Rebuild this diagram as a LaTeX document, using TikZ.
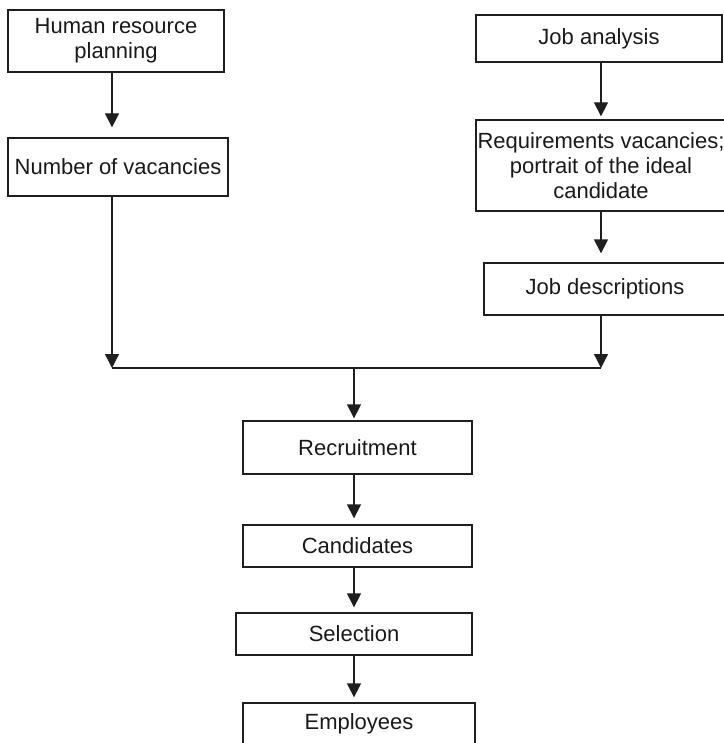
\documentclass[tikz,border=0pt]{standalone}
\usepackage{fontspec}
\setmainfont{Liberation Sans}
\usetikzlibrary{arrows.meta}
\begin{document}
\begin{tikzpicture}[x=1pt,y=-1pt,
  box/.style={draw=black!88, line width=1.3pt, inner sep=0pt, align=center,
    font=\fontsize{22}{25}\selectfont, text=black!90},
  conn/.style={draw=black!88, line width=1.3pt},
  arr/.style={conn, -{Triangle[length=14pt,width=14pt]}}]
\useasboundingbox (0,0) rectangle (723,743);
\node[box, minimum width=216pt, minimum height=62pt] (hrp) at (116,41) {Human resource\\planning};
\node[box, minimum width=220pt, minimum height=58pt] (nov) at (118,167) {Number of vacancies};
\node[box, minimum width=246pt, minimum height=47pt] (ja) at (599,38.5) {Job analysis};
\node[box, minimum width=250pt, minimum height=91pt] (req) at (601,165.5) {Requirements vacancies;\\portrait of the ideal\\candidate};
\node[box, minimum width=242pt, minimum height=52pt] (jd) at (605,289) {Job descriptions};
\node[box, minimum width=229pt, minimum height=53pt] (rec) at (357.5,447.5) {Recruitment};
\node[box, minimum width=229pt, minimum height=42pt] (cand) at (357.5,546) {Candidates};
\node[box, minimum width=236pt, minimum height=42pt] (sel) at (354,634) {Selection};
\node[box, minimum width=232pt, minimum height=42pt] (emp) at (359,724) {Employees};
\coordinate (lx) at (112,0);
\coordinate (rx) at (601,0);
\coordinate (cx) at (354,0);
\coordinate (my) at (0,368);
\draw[arr, shorten >=10pt] (hrp.south -| lx) -- (nov.north -| lx);
\draw[arr, shorten >=3pt] (ja.south -| rx) -- (req.north -| rx);
\draw[arr, shorten >=9pt] (req.south -| rx) -- (jd.north -| rx);
\draw[arr] (nov.south -| lx) -- (lx |- my);
\draw[arr] (jd.south -| rx) -- (rx |- my);
\draw[conn] (lx |- my) -- (rx |- my);
\draw[arr, shorten >=2pt] (cx |- my) -- (rec.north -| cx);
\draw[arr, shorten >=6pt] (rec.south -| cx) -- (cand.north -| cx);
\draw[arr, shorten >=5pt] (cand.south -| cx) -- (sel.north -| cx);
\draw[arr, shorten >=5pt] (sel.south -| cx) -- (emp.north -| cx);
\end{tikzpicture}
\end{document}
